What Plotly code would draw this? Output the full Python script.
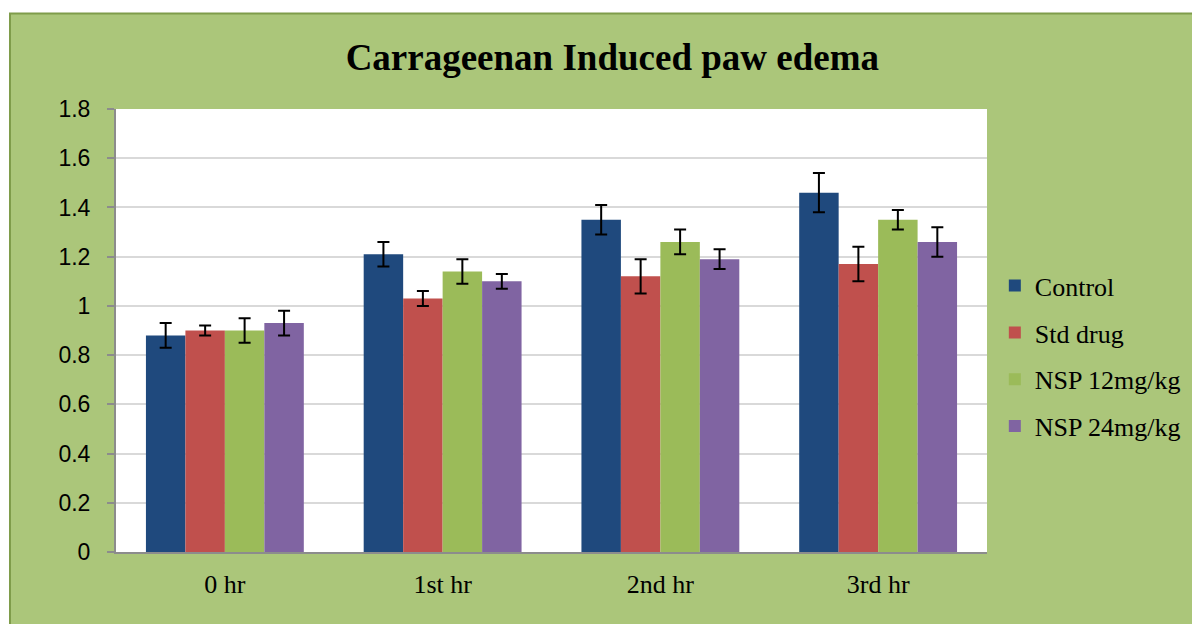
import plotly.graph_objects as go

categories = ["0 hr", "1st hr", "2nd hr", "3rd hr"]

control = [0.88, 1.21, 1.35, 1.46]
control_err = [0.05, 0.05, 0.06, 0.08]
std_drug = [0.90, 1.03, 1.12, 1.17]
std_drug_err = [0.02, 0.03, 0.07, 0.07]
nsp_12 = [0.90, 1.14, 1.26, 1.35]
nsp_12_err = [0.05, 0.05, 0.05, 0.04]
nsp_24 = [0.93, 1.10, 1.19, 1.26]
nsp_24_err = [0.05, 0.03, 0.04, 0.06]

series = [
    ("Control", control, control_err, "#1F497D"),
    ("Std drug", std_drug, std_drug_err, "#C0504D"),
    ("NSP 12mg/kg", nsp_12, nsp_12_err, "#9BBB59"),
    ("NSP 24mg/kg", nsp_24, nsp_24_err, "#8064A2"),
]

fig = go.Figure()
for name, vals, errs, color in series:
    fig.add_trace(
        go.Bar(
            x=categories,
            y=vals,
            name=name,
            legendgroup=name,
            marker=dict(color=color, line=dict(width=0)),
            error_y=dict(type="data", array=errs, color="black", thickness=2, width=6),
        )
    )

# green chart frame, then white plot area on top of it
fig.add_shape(
    type="rect", xref="paper", yref="paper",
    x0=-0.1217, x1=1.3, y0=-0.3, y1=1.2156,
    fillcolor="#ABC67A", line=dict(color="#7F9C4A", width=2), layer="below",
)
fig.add_shape(
    type="rect", xref="paper", yref="paper",
    x0=0, x1=1, y0=0, y1=1,
    fillcolor="white", line=dict(width=0), layer="below",
)

# page body has an 8px margin, so the figure is 8px smaller and offsets shifted
fig.update_layout(
    width=1192,
    height=616,
    paper_bgcolor="white",
    plot_bgcolor="white",
    barmode="group",
    bargap=0.275,
    bargroupgap=0,
    margin={"l": 108, "r": 213, "t": 101, "b": 72},
    title=dict(
        text="<b>Carrageenan Induced paw edema</b>",
        x=0.507, xanchor="center", y=0.92, yanchor="middle",
        font=dict(family="Liberation Serif", size=37, color="black"),
    ),
    legend=dict(
        x=1.009, xanchor="left", y=0.442, yanchor="middle",
        font=dict(family="Liberation Serif", size=26, color="black"),
        bgcolor="rgba(0,0,0,0)",
        tracegroupgap=10,
        itemwidth=30,
    ),
    xaxis=dict(
        showline=True, linecolor="#8C8C8C", linewidth=2,
        ticks="", showgrid=False, ticklabelstandoff=8,
        tickfont=dict(family="Liberation Serif", size=26, color="black"),
    ),
    yaxis=dict(
        range=[0, 1.8], dtick=0.2, tickformat="~g",
        showline=True, linecolor="#8C8C8C", linewidth=2,
        ticks="outside", ticklen=7, tickcolor="#8C8C8C", tickwidth=2,
        showgrid=True, gridcolor="#D9D9D9", gridwidth=2,
        zeroline=False, ticklabelstandoff=12,
        tickfont=dict(family="Liberation Sans", size=23, color="black"),
    ),
)

fig.write_html("out.html")
